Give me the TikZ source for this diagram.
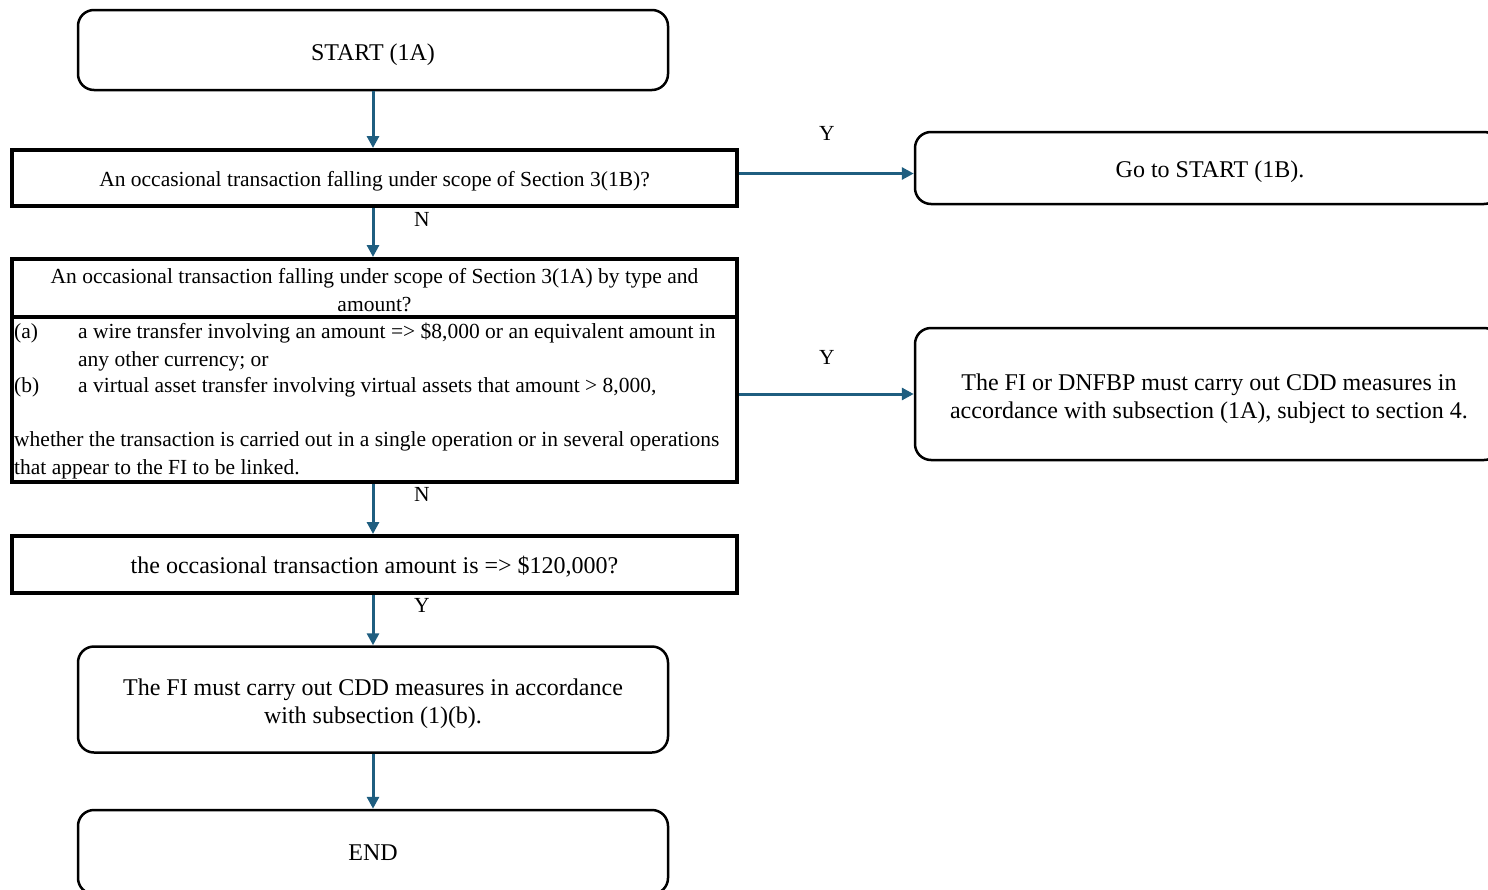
\documentclass[tikz,border=0pt]{standalone}
\usepackage{fontspec}
\setmainfont{Liberation Serif}
\usetikzlibrary{arrows.meta}
\definecolor{arr}{RGB}{31,94,128}
\begin{document}
\begin{tikzpicture}[x=1pt,y=-1pt,
  font=\fontsize{21.5}{27.5}\selectfont,
  rbox/.style={draw=black, line width=2.5pt, rounded corners=16pt, inner sep=0pt},
  qbox/.style={draw=black, line width=4pt, inner sep=0pt},
  arrowline/.style={draw=arr, line width=3pt, -{Triangle[length=12pt,width=12pt]}},
  lbl/.style={inner sep=0pt, align=center},
  bigl/.style={inner sep=0pt, align=center, font=\fontsize{24}{27.5}\selectfont},
  txt/.style={inner sep=0pt, anchor=base west}]
\useasboundingbox (0,0) rectangle (1488,889);
\clip (0,0) rectangle (1488,889);

% left column
\node[rbox, minimum width=590pt, minimum height=80pt] (start) at (373,50) {};
\node[bigl] (startt) at (373,54.5) {START (1A)};
\node[qbox, minimum width=725pt, minimum height=56pt] (q1) at (374.5,178) {};
\node[lbl] (q1t) at (374.5,181) {An occasional transaction falling under scope of Section 3(1B)?};
\node[qbox, minimum width=725pt, minimum height=223pt] (q2) at (374.5,370.5) {};
\draw[line width=4pt] (q2.west |- 0,317) coordinate (sepl) -- (q2.east |- 0,317) coordinate (sepr);
\node[lbl] (q2h) at (374.5,290)
  {An occasional transaction falling under scope of Section 3(1A) by type and\\amount?};
\node[txt] (la) at (14,338) {(a)};
\node[txt] (ta) at (78,338) {a wire transfer involving an amount => \$8,000 or an equivalent amount in};
\node[txt] (ta2) at (78,366) {any other currency; or};
\node[txt] (lb) at (14,392) {(b)};
\node[txt] (tb) at (78,392) {a virtual asset transfer involving virtual assets that amount > 8,000,};
\node[txt] (tw) at (14,446) {whether the transaction is carried out in a single operation or in several operations};
\node[txt] (tw2) at (14,474) {that appear to the FI to be linked.};
\node[qbox, minimum width=725pt, minimum height=57pt] (q3) at (374.5,564.5) {};
\node[bigl] (q3t) at (374.5,566.5) {the occasional transaction amount is => \$120,000?};
\node[rbox, minimum width=590pt, minimum height=106pt] (cdd) at (373,699.5) {};
\node[bigl] (cddt) at (373,703.5)
  {The FI must carry out CDD measures in accordance\\with subsection (1)(b).};
\node[rbox, minimum width=590pt, minimum height=84pt] (end) at (373,852) {};
\node[bigl] (endt) at (373,853) {END};

% right column
\node[rbox, minimum width=585pt, minimum height=72pt] (goto) at (1207.5,168) {};
\node[bigl] (gotot) at (1210,171.5) {Go to START (1B).};
\node[rbox, minimum width=585pt, minimum height=132pt] (fi) at (1207.5,394) {};
\node[bigl] (fit) at (1209,398.5)
  {The FI or DNFBP must carry out CDD measures in\\accordance with subsection (1A), subject to section 4.};

% connectors
\draw[arrowline] (start.south) -- (start.south |- q1.north);
\draw[arrowline] (start.south |- q1.south) -- (start.south |- q2.north);
\draw[arrowline] (start.south |- q2.south) -- (start.south |- q3.north);
\draw[arrowline] (start.south |- q3.south) -- (cdd.north);
\draw[arrowline] (cdd.south) -- (end.north);
\coordinate (y1s) at ([yshift=4.5pt]q1.east);
\draw[arrowline] (y1s) -- (y1s -| goto.west);
\draw[arrowline] (q2.east |- fi.west) -- (fi.west);

% labels
\node[lbl] (n1) at (422,219) {N};
\node[lbl] (n2) at (422,494) {N};
\node[lbl] (y3) at (422,605) {Y};
\node[lbl] (y1) at (827,133) {Y};
\node[lbl] (y2) at (827,357) {Y};
\end{tikzpicture}
\end{document}
